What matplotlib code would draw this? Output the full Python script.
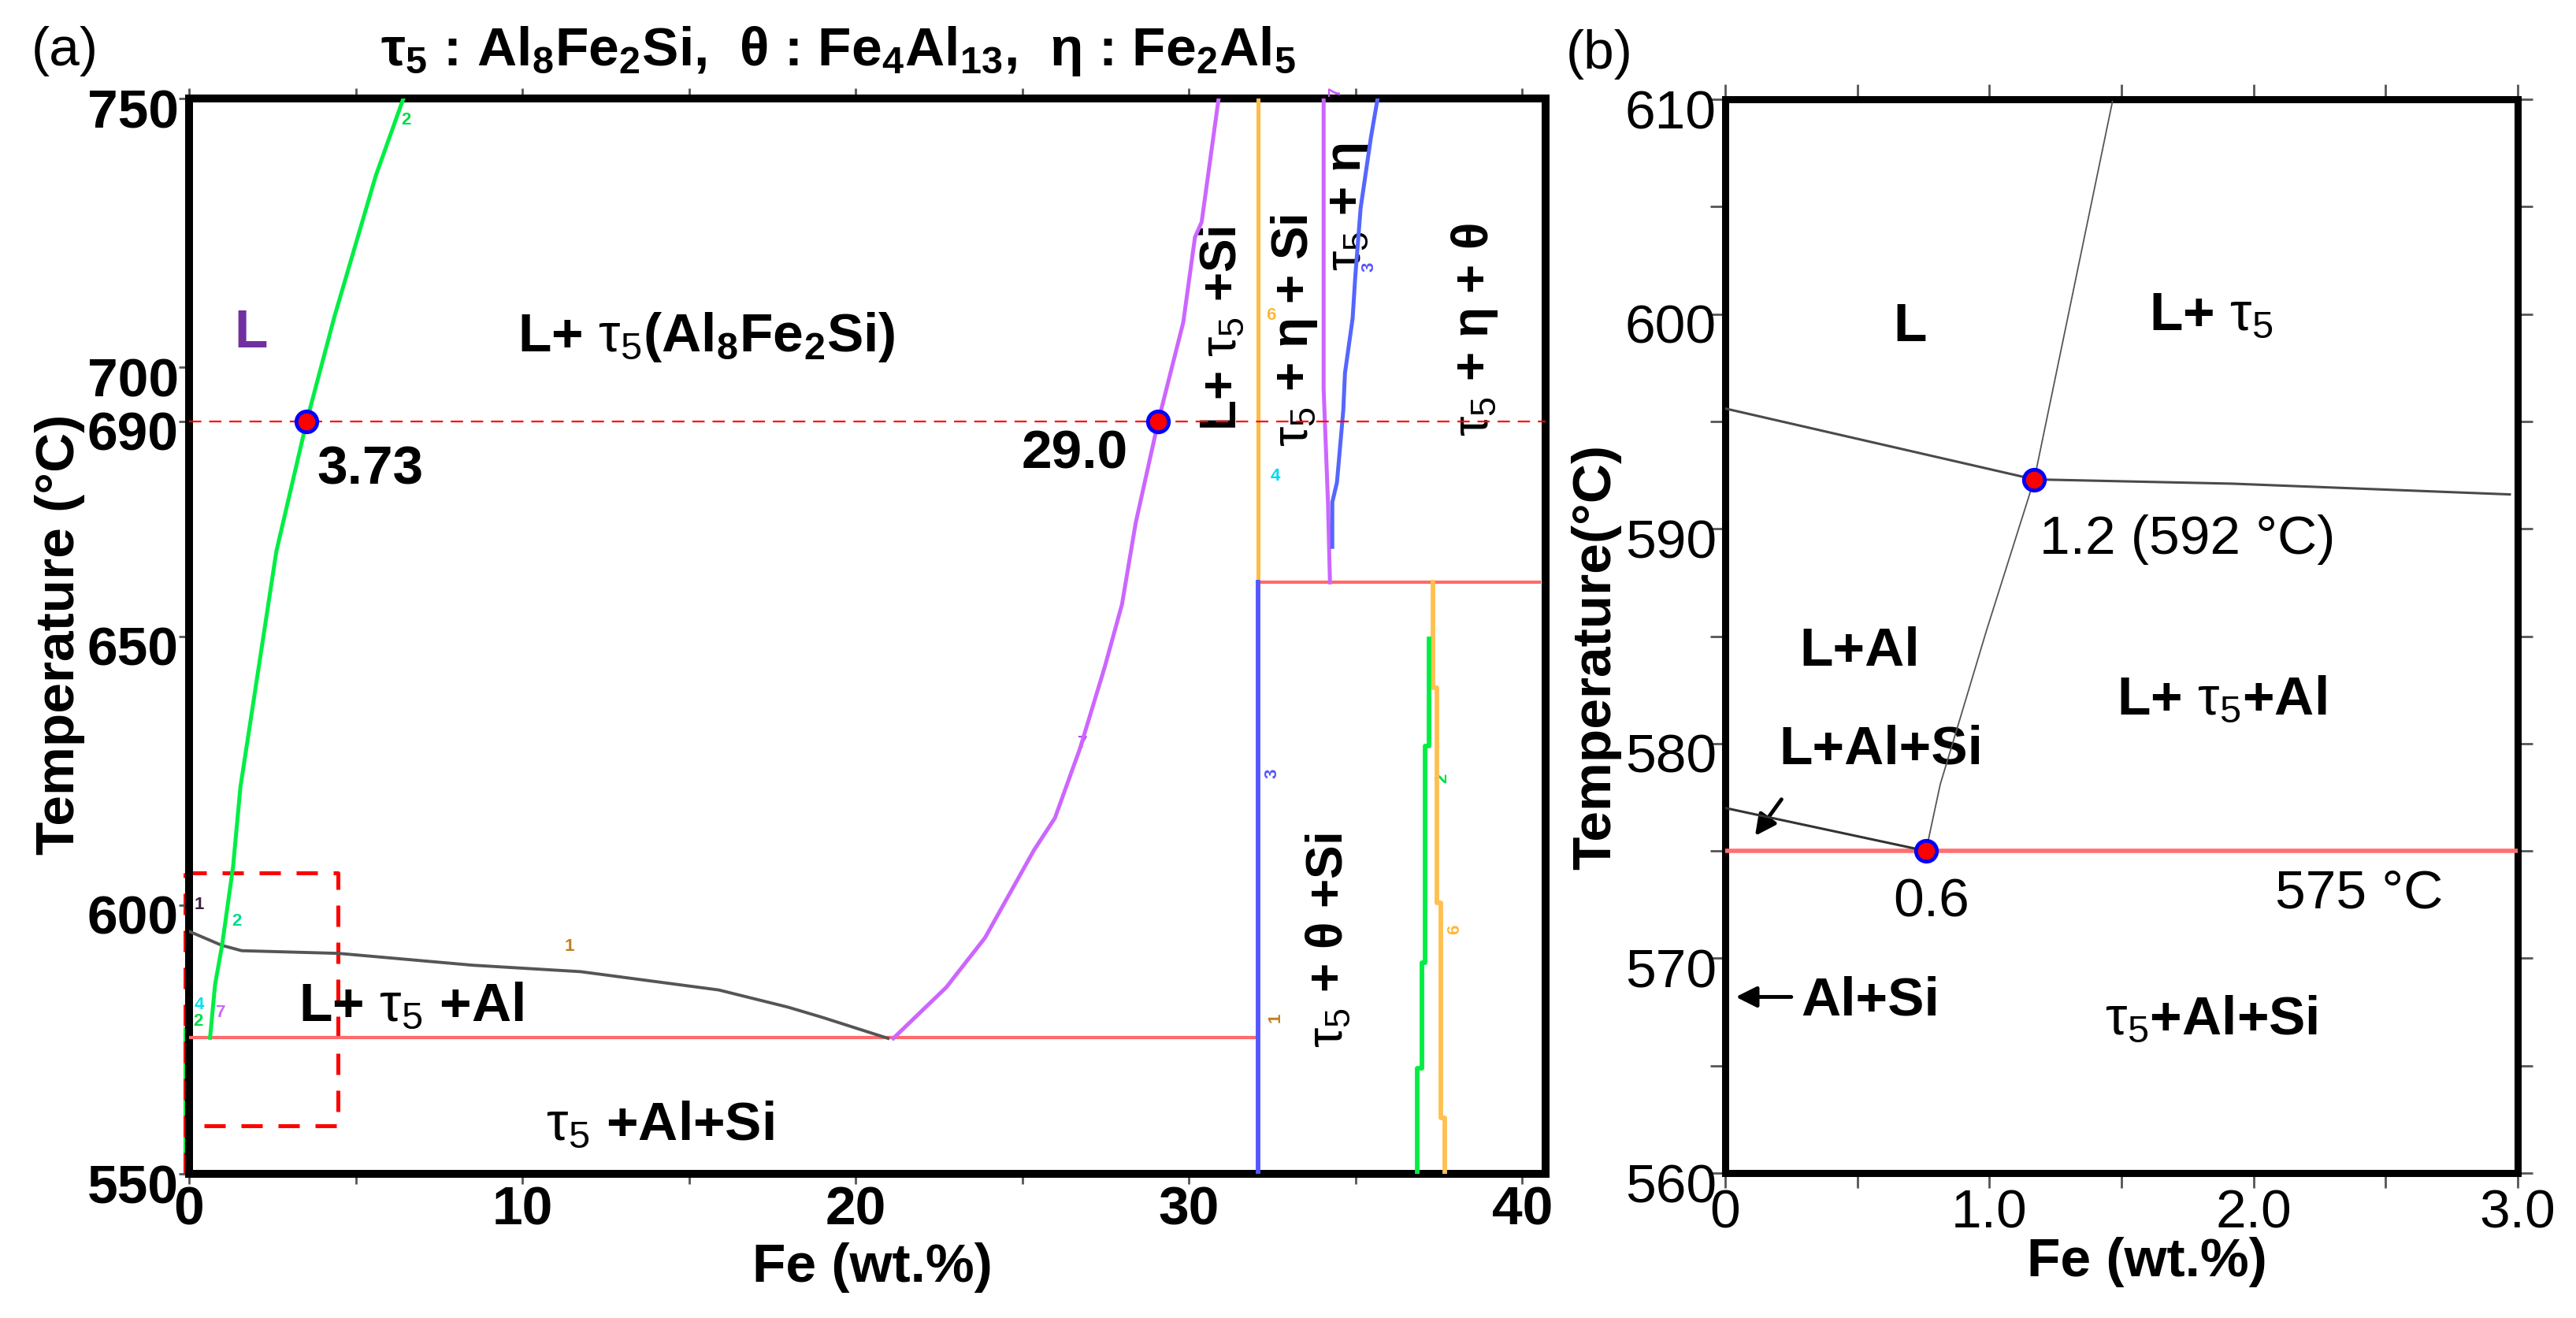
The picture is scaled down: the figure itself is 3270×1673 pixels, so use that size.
import matplotlib
matplotlib.use('Agg')
import matplotlib.pyplot as plt
import matplotlib.transforms as mtransforms
from matplotlib.ticker import FixedLocator, MultipleLocator

plt.rcParams['font.family'] = ['Liberation Sans', 'DejaVu Sans']
plt.rcParams['mathtext.fontset'] = 'custom'
plt.rcParams['mathtext.rm'] = 'Liberation Sans'
plt.rcParams['mathtext.it'] = 'Liberation Sans:italic'
plt.rcParams['mathtext.bf'] = 'Liberation Sans:bold'
plt.rcParams['mathtext.default'] = 'bf'

# ------------------------------------------------------------------ data (a)
green_fe = [6.43, 5.60, 4.36, 3.53, 2.62, 1.54, 1.32, 0.99, 0.78, 0.63]
green_T = [750, 735.6, 709.4, 690, 665.8, 621.9, 607.1, 592.5, 585.2, 575.3]

black_fe = [0, 0.98, 1.58, 4.49, 8.51, 11.75, 15.89, 17.97, 19.0, 20.97]
black_T = [595.1, 592.5, 591.5, 591.0, 588.8, 587.6, 584.2, 581.0, 579.1, 575.2]

magenta_fe = [21.13, 22.72, 23.88, 25.35, 25.98, 26.73, 27.47, 27.99, 28.40, 29.08, 29.83, 30.18, 30.38, 30.89]
magenta_T = [575.2, 584.7, 593.9, 610.2, 616.2, 629.1, 644.2, 655.9, 671, 690, 708.4, 724.2, 727, 750]

orange1_fe = [32.07, 32.07]
orange1_T = [660, 750]
blue1_fe = [32.07, 32.07]
blue1_T = [550, 660]

eut_low_fe = [0, 32.07]
eut_low_T = [575.3, 575.3]
eut_high_fe = [32.07, 40.5]
eut_high_T = [660, 660]

magenta2_fe = [34.04, 34.04, 34.17, 34.23]
magenta2_T = [750, 696, 675, 660]

blue2_fe = [35.66, 35.46, 35.15, 34.99, 34.91, 34.68, 34.63, 34.44, 34.30, 34.30]
blue2_T = [750, 742.8, 729.6, 716.9, 709.1, 698.9, 692, 678.6, 674.9, 666.6]

orange2_fe = [37.31, 37.31, 37.45, 37.45, 37.55, 37.55, 37.67, 37.67]
orange2_T = [660, 640.4, 640.4, 600.4, 600.4, 560.4, 560.4, 550]

green2_fe = [37.20, 37.20, 37.08, 37.08, 37.00, 37.00, 36.84, 36.84]
green2_T = [649.5, 629.5, 629.5, 589.3, 589.3, 569.7, 569.7, 550]

green_edge_fe = [-0.12, -0.12]
green_edge_T = [550, 577]

box_fe = [-0.12, 4.47, 4.47, 0.3]
box_T = [606, 606, 558.9, 558.9]
box_edge_fe = [-0.12, -0.12]
box_edge_T = [550, 606]

iso_T = 690
dots_a_fe = [3.53, 29.08]
dots_a_T = [690, 690]

xticks_a = [0, 10, 20, 30, 40]
xminor_a = [5, 15, 25, 35]
yticks_a = [550, 600, 650, 690, 700, 750]

# region labels (a): text, fe, T
labels_a = [
    (r'L+ $\mathrm{\tau_5}$(Al$_8$Fe$_2$Si)', 15.53, 705.6),
    (r'L+ $\mathrm{\tau_5}$ +Al', 6.67, 581.0),
    (r'$\mathrm{\tau_5}$ +Al+Si', 14.14, 558.9),
    ('3.73', 5.44, 680.9),
    ('29.0', 26.57, 683.8),
]
# vertical labels: text, fe (centre), T of the lower end
rot_labels_a = [
    (r'L+ $\mathrm{\tau_5}$ +Si', 31.0, 688.2),
    (r'$\mathrm{\tau_5}$ + η + Si', 33.15, 685.3),
    (r'$\mathrm{\tau_5}$ + η', 34.8, 717.9),
    (r'$\mathrm{\tau_5}$ + η + θ', 38.57, 687.2),
    (r'$\mathrm{\tau_5}$ + θ +Si', 34.18, 573.4),
]
# small curve index labels: text, fe, T, colour, rotation
curve_ids = [
    ('2', 6.5, 746, '#00dd44', 0),
    ('1', 0.3, 600, '#402040', 0),
    ('2', 1.42, 597, '#00dd88', 0),
    ('4', 0.3, 581.5, '#00e0f0', 0),
    ('2', 0.28, 578.4, '#00dd44', 0),
    ('7', 0.95, 580, '#cc66ff', 0),
    ('1', 11.4, 592.2, '#c08020', 0),
    ('7', 26.8, 630, '#b040ff', 0),
    ('6', 32.47, 709.7, '#ffb833', 0),
    ('4', 32.6, 679.8, '#00d8f0', 0),
    ('3', 35.4, 718.7, '#5555ff', 90),
    ('3', 32.5, 624.5, '#5555ff', 90),
    ('2', 37.6, 623.6, '#00dd44', 90),
    ('6', 37.98, 595.4, '#ffb833', 90),
    ('1', 32.6, 579, '#c08020', 90),
    ('7', 34.4, 751.3, '#cc55ff', 90),
]

# ------------------------------------------------------------------ data (b)
b_line1_fe = [0, 1.17, 1.92, 2.97]
b_line1_T = [595.6, 592.3, 592.1, 591.6]
b_line2_fe = [1.466, 1.17, 0.99, 0.89, 0.814, 0.76]
b_line2_T = [609.9, 592.3, 585.3, 581.2, 578.1, 575.0]
b_line3_fe = [0, 0.76]
b_line3_T = [577.0, 575.0]
b_eut_fe = [0, 3.0]
b_eut_T = [575.0, 575.0]
dots_b_fe = [1.17, 0.76]
dots_b_T = [592.3, 575.0]

xticks_b = [0, 1, 2, 3]
xticklabels_b = ['0', '1.0', '2.0', '3.0']
yticks_b = [560, 570, 580, 590, 600, 610]

labels_b_bold = [
    ('L', 0.70, 599.4),
    (r'L+ $\mathrm{\tau_5}$', 1.84, 599.9),
    ('L+Al', 0.51, 584.3),
    ('L+Al+Si', 0.59, 579.7),
    (r'L+ $\mathrm{\tau_5}$+Al', 1.88, 582.0),
    (r'$\mathrm{\tau_5}$+Al+Si', 1.84, 567.1),
    ('Al+Si', 0.55, 568.0),
]
labels_b_reg = [
    ('1.2 (592 °C)', 1.75, 589.5),
    ('0.6', 0.78, 572.6),
    ('575 °C', 2.40, 573.0),
]
arrows_b = [  # (tail fe, tail T, head fe, head T)
    (0.213, 577.4, 0.113, 575.7),
    (0.25, 568.2, 0.04, 568.2),
]

# ------------------------------------------------------------------ figure
W, H = 3270, 1673
fig = plt.figure(figsize=(W / 100, H / 100), dpi=100)


def px_axes(l, t, r, b):
    return fig.add_axes([l / W, 1 - b / H, (r - l) / W, (b - t) / H])


FS = 50
axA = px_axes(240, 125, 1962, 1490)
axB = px_axes(2190, 126, 3196, 1489)

# ---------------- panel (a)
ax = axA
ax.set_xlim(0, 40.7)
ax.set_ylim(550, 750)
lw_c = 3.6
ax.plot(green_edge_fe, green_edge_T, color='#00ee44', lw=3, clip_on=False, zorder=1)
ax.plot(box_edge_fe, box_edge_T, color='red', lw=3.6, dashes=(5.4, 4), clip_on=False, zorder=1)
ax.plot(box_fe, box_T, color='red', lw=3.6, dashes=(5.4, 4), zorder=2)
ax.plot(eut_low_fe, eut_low_T, color='#ff6a6a', lw=3, zorder=3)
ax.plot(eut_high_fe, eut_high_T, color='#ff6a6a', lw=3, zorder=3)
ax.plot(black_fe, black_T, color='#555555', lw=2.8, zorder=4)
ax.plot(green_fe, green_T, color='#00ee44', lw=lw_c, zorder=5)
ax.plot(magenta_fe, magenta_T, color='#cc66ff', lw=lw_c, zorder=5)
ax.plot(orange1_fe, orange1_T, color='#ffbb44', lw=lw_c, zorder=4)
ax.plot(blue1_fe, blue1_T, color='#5555ff', lw=4.2, zorder=4)
ax.plot(magenta2_fe, magenta2_T, color='#cc66ff', lw=lw_c, zorder=5)
ax.plot(blue2_fe, blue2_T, color='#5566ff', lw=lw_c, zorder=5)
ax.plot(orange2_fe, orange2_T, color='#ffc050', lw=4.2, zorder=4)
ax.plot(green2_fe, green2_T, color='#00ee44', lw=4.2, zorder=5)
ax.axhline(iso_T, color='red', lw=1.6, dashes=(7, 4.5), zorder=6)
ax.plot(dots_a_fe, dots_a_T, 'o', ms=19, mfc='red', mec='blue', mew=3.5, zorder=10)

ax.text(1.87, 706.4, 'L', fontsize=FS, fontweight='bold', color='#7030a0',
        ha='center', va='center')
for txt, x, y in labels_a:
    ax.text(x, y, txt, fontsize=FS, fontweight='bold', ha='center', va='center')
for txt, x, y in rot_labels_a:
    ax.text(x, y, txt, fontsize=46, fontweight='bold', ha='center', va='bottom',
            rotation=90, rotation_mode='default')
for txt, x, y, c, r in curve_ids:
    ax.text(x, y, txt, fontsize=16, fontweight='bold', color=c, ha='center',
            va='center', rotation=r, clip_on=False)

ax.text(0.4782, (1490 - 83) / 1365,
        r'$\tau_5$ : Al$_8$Fe$_2$Si,  θ : Fe$_4$Al$_{13}$,  η : Fe$_2$Al$_5$',
        transform=ax.transAxes, fontsize=FS, fontweight='bold', ha='center', va='baseline')

for s in ax.spines.values():
    s.set_linewidth(7.2)
ax.xaxis.set_major_locator(FixedLocator(xticks_a))
ax.xaxis.set_minor_locator(FixedLocator(xminor_a))
ax.yaxis.set_major_locator(FixedLocator(yticks_a))
ax.tick_params(axis='x', which='both', direction='out', length=9.5, width=2,
               color='#555555', top=True, bottom=True, labelsize=FS, pad=1)
ax.tick_params(axis='y', which='both', direction='out', length=9.5, width=2,
               color='#555555', left=True, right=False, labelsize=FS, pad=0)
ax.set_xticklabels([str(v) for v in xticks_a], fontweight='bold')
ax.set_yticklabels([str(v) for v in yticks_a], fontweight='bold')
ax.set_xlabel('Fe (wt.%)', fontsize=FS, fontweight='bold')
ax.xaxis.set_label_coords(0.504, -0.087)
ax.xaxis.label.set_va('center')
ax.set_ylabel('Temperature (°C)', fontsize=FS, fontweight='bold')
ax.yaxis.set_label_coords(-0.0952, 0.5018)
ax.yaxis.label.set_va('center')

# ---------------- panel (b)
ax = axB
ax.set_xlim(0, 3.0)
ax.set_ylim(560, 610)
ax.plot(b_eut_fe, b_eut_T, color='#ff7070', lw=4, zorder=3)
ax.plot(b_line1_fe, b_line1_T, color='#4a4a4a', lw=2.2, zorder=4)
ax.plot(b_line2_fe, b_line2_T, color='#555555', lw=1.3, zorder=4)
ax.plot(b_line3_fe, b_line3_T, color='#333333', lw=2.2, zorder=4)
ax.plot(dots_b_fe, dots_b_T, 'o', ms=19, mfc='red', mec='blue', mew=3.5, zorder=10)
for txt, x, y in labels_b_bold:
    ax.text(x, y, txt, fontsize=FS, fontweight='bold', ha='center', va='center')
for txt, x, y in labels_b_reg:
    ax.text(x, y, txt, fontsize=FS, ha='center', va='center')
for x0, y0, x1, y1 in arrows_b:
    ax.annotate('', xy=(x1, y1), xytext=(x0, y0),
                arrowprops=dict(arrowstyle='-|>', color='black', lw=3.5,
                                mutation_scale=40, shrinkA=0, shrinkB=0))

for s in ax.spines.values():
    s.set_linewidth(6.5)
ax.xaxis.set_major_locator(FixedLocator(xticks_b))
ax.xaxis.set_minor_locator(MultipleLocator(0.5))
ax.yaxis.set_major_locator(FixedLocator(yticks_b))
ax.yaxis.set_minor_locator(MultipleLocator(5))
ax.tick_params(axis='both', which='both', direction='out', length=14, width=2,
               color='#555555', top=True, right=True, labelsize=FS)
ax.tick_params(axis='y', which='major', pad=-6)
ax.tick_params(axis='x', which='major', pad=0)
ax.set_xticklabels(xticklabels_b)
ax.set_yticklabels([str(v) for v in yticks_b])
ax.set_xlabel('Fe (wt.%)', fontsize=FS, fontweight='bold')
ax.xaxis.set_label_coords(0.532, -0.083)
ax.xaxis.label.set_va('center')
ax.set_ylabel('Temperature(°C)', fontsize=FS, fontweight='bold')
ax.yaxis.set_label_coords(-0.163, 0.4806)
ax.yaxis.label.set_va('center')

# shift y tick labels slightly downward as in the reference
offset = mtransforms.ScaledTranslation(0, -0.12, fig.dpi_scale_trans)
for a in (axA, axB):
    for lab in a.get_yticklabels():
        lab.set_transform(lab.get_transform() + offset)

fig.text(82 / W, 1 - 65 / H, '(a)', fontsize=FS, ha='center', va='center')
fig.text(2030 / W, 1 - 69 / H, '(b)', fontsize=FS, ha='center', va='center')

fig.savefig('out.png', dpi=100, facecolor='white')
